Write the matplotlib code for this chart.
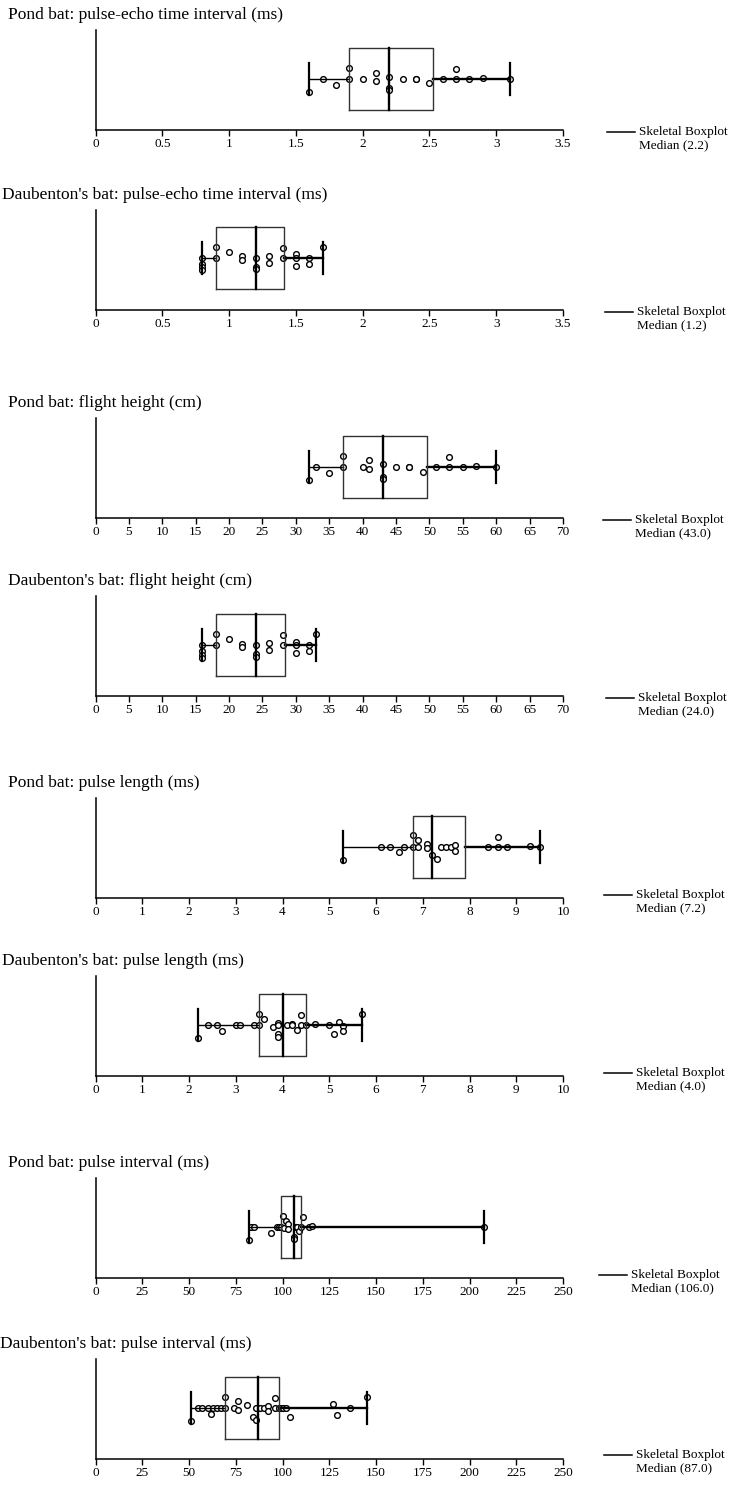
import matplotlib
matplotlib.use('Agg')
import matplotlib.pyplot as plt
from matplotlib.lines import Line2D

plt.rcParams['font.family'] = ['Liberation Serif', 'DejaVu Serif']

titles = ["Pond bat: pulse-echo time interval (ms)",
          "Daubenton's bat: pulse-echo time interval (ms)",
          "Pond bat: flight height (cm)",
          "Daubenton's bat: flight height (cm)",
          "Pond bat: pulse length (ms)",
          "Daubenton's bat: pulse length (ms)",
          "Pond bat: pulse interval (ms)",
          "Daubenton's bat: pulse interval (ms)"]

# values, with the little vertical spread of each dot (px)
pe_pond = [1.6, 1.7, 1.8, 1.9, 1.9, 2.0, 2.1, 2.1, 2.2, 2.2, 2.2, 2.3, 2.4, 2.4, 2.5, 2.6, 2.7, 2.7, 2.8, 2.9, 3.1]
pe_pond_jit = [-13, 0, -6, 11, 0, 0, 6, -2, 2, -9, -11, 0, 0, 0, -4, 0, 10, 0, 0, 1, 0]
pe_daub = [0.8, 0.8, 0.8, 0.8, 0.9, 0.9, 1.0, 1.1, 1.1, 1.2, 1.2, 1.2, 1.3, 1.3, 1.4, 1.4, 1.5, 1.5, 1.5, 1.6, 1.6, 1.7]
pe_daub_jit = [0, -6, -9, -12, 11, 0, 6, 2, -2, 0, -9, -11, 2, -5, 10, 0, 4, 0, -8, 0, -6, 11]
fh_pond = [32, 33, 35, 37, 37, 40, 41, 41, 43, 43, 43, 45, 47, 47, 49, 51, 53, 53, 55, 57, 60]
fh_pond_jit = [-13, 0, -6, 11, 0, 0, 7, -2, 3, -10, -12, 0, 0, 0, -5, 0, 10, 0, 0, 1, 0]
fh_daub = [16, 16, 16, 16, 18, 18, 20, 22, 22, 24, 24, 24, 26, 26, 28, 28, 30, 30, 30, 32, 32, 33]
fh_daub_jit = [0, -6, -10, -13, 11, 0, 6, 1, -2, 0, -9, -12, 2, -5, 10, 0, 3, 0, -8, 0, -6, 11]
pl_pond = [5.3, 6.1, 6.3, 6.5, 6.6, 6.8, 6.8, 6.9, 6.9, 7.1, 7.1, 7.2, 7.3, 7.4, 7.5, 7.6, 7.7, 7.7, 8.4, 8.6, 8.6, 8.8, 9.3, 9.5]
pl_pond_jit = [-13, 0, 0, -5, 0, 12, 0, 7, 0, 3, -1, -8, -12, 0, 0, 0, 2, -4, 0, 10, 0, 0, 1, 0]
pl_daub = [2.2, 2.4, 2.6, 2.7, 3.0, 3.1, 3.4, 3.5, 3.5, 3.6, 3.8, 3.9, 3.9, 3.9, 3.9, 4.1, 4.2, 4.2, 4.3, 4.4, 4.4, 4.5, 4.7, 5.0, 5.1, 5.2, 5.3, 5.3, 5.7]
pl_daub_jit = [-13, 0, 0, -6, 0, 0, 0, 11, 0, 6, -2, 2, 0, -9, -12, 0, 1, 0, -5, 10, 0, 0, 1, 0, -9, 3, -1, -6, 11]
pi_pond = [82, 83, 85, 94, 97, 98, 99, 100, 101, 102, 103, 103, 106, 106, 107, 108, 109, 110, 111, 114, 116, 208]
pi_pond_jit = [-13, 0, 0, -6, 0, 0, 0, 11, -1, 6, 3, -2, -10, -12, 0, 0, -4, 0, 10, 0, 1, 0]
pi_daub = [51, 55, 57, 60, 62, 63, 65, 67, 69, 69, 74, 76, 76, 81, 84, 86, 86, 88, 90, 92, 92, 96, 96, 98, 99, 100, 102, 104, 127, 129, 136, 145]
pi_daub_jit = [-13, 0, 0, 0, -6, 0, 0, 0, 11, 0, 0, 7, -2, 3, -9, -12, 0, 0, 0, 2, -3, 10, 0, 0, 0, 0, 0, -9, 4, -7, 0, 11]

# min, q1, median, q3, max
boxes = [[1.6, 1.9, 2.2, 2.53, 3.1],
         [0.8, 0.9, 1.2, 1.41, 1.7],
         [32, 37, 43, 49.6, 60],
         [16, 18, 24, 28.3, 33],
         [5.3, 6.8, 7.2, 7.9, 9.5],
         [2.2, 3.5, 4.0, 4.5, 5.7],
         [82, 99, 106, 110, 208],
         [51, 69, 87, 98, 145]]
medians = ["2.2", "1.2", "43.0", "24.0", "7.2", "4.0", "106.0", "87.0"]

ticks_a = [0, 0.5, 1, 1.5, 2, 2.5, 3, 3.5]
ticks_b = list(range(0, 71, 5))
ticks_c = list(range(0, 11))
ticks_d = list(range(0, 251, 25))

vals = [pe_pond, pe_daub, fh_pond, fh_daub, pl_pond, pl_daub, pi_pond, pi_daub]
jits = [pe_pond_jit, pe_daub_jit, fh_pond_jit, fh_daub_jit, pl_pond_jit, pl_daub_jit, pi_pond_jit, pi_daub_jit]
ticks = [ticks_a, ticks_a, ticks_b, ticks_b, ticks_c, ticks_c, ticks_d, ticks_d]

W, H = 732, 1485
fig = plt.figure(figsize=(W / 100, H / 100), dpi=100)

axis_y = [130, 310, 518, 696, 898, 1076, 1278, 1459]
title_x = [8, 2, 8, 8, 8, 2, 8, 0]
leg_x = [607, 605, 603, 606, 604, 604, 599, 604]
leg_dy = [2, 2, 2, 2, -3, -3, -3, -4]

for i in range(8):
    ax = fig.add_axes([95.5 / W, 1 - axis_y[i] / H, 467.5 / W, 100 / H])
    lo, q1, med, q3, hi = boxes[i]
    ax.scatter(vals[i], jits[i], s=17, facecolors='white', edgecolors='black',
               linewidths=1.0, zorder=2)
    ax.plot([lo, q1], [0, 0], color='black', lw=1.0, zorder=3)
    ax.plot([q3, hi], [0, 0], color='black', lw=1.7, zorder=3)
    ax.plot([lo, lo], [-16, 16], color='black', lw=1.6, zorder=3)
    ax.plot([hi, hi], [-16, 16], color='black', lw=1.6, zorder=3)
    ax.plot([q1, q3, q3, q1, q1], [-31, -31, 31, 31, -31], color='#333333', lw=1.0, zorder=3)
    ax.plot([med, med], [-31, 31], color='black', lw=1.7, zorder=3)

    ax.set_xlim(ticks[i][0], ticks[i][-1])
    ax.set_ylim(-51.5, 48.5)
    ax.set_xticks(ticks[i])
    ax.set_xticklabels(['%g' % t for t in ticks[i]])
    ax.set_yticks([])
    ax.spines['top'].set_visible(False)
    ax.spines['right'].set_visible(False)
    ax.spines['left'].set_linewidth(1.1)
    ax.spines['bottom'].set_linewidth(1.1)
    ax.tick_params(axis='x', direction='out', length=4, width=1, pad=2, labelsize=9.5)
    ax.patch.set_alpha(0)

    fig.text(title_x[i] / W, 1 - (axis_y[i] - 115) / H, titles[i],
             ha='left', va='center', fontsize=12.5)

    ly = axis_y[i] + leg_dy[i]
    fig.add_artist(Line2D([leg_x[i] / W, (leg_x[i] + 28) / W], [1 - ly / H, 1 - ly / H],
                          color='black', lw=1.1))
    fig.text((leg_x[i] + 32) / W, 1 - ly / H, "Skeletal Boxplot",
             ha='left', va='center', fontsize=9.5)
    fig.text((leg_x[i] + 32) / W, 1 - (ly + 13) / H, "Median (%s)" % medians[i],
             ha='left', va='center', fontsize=9.5)

fig.savefig('out.png', dpi=100)
